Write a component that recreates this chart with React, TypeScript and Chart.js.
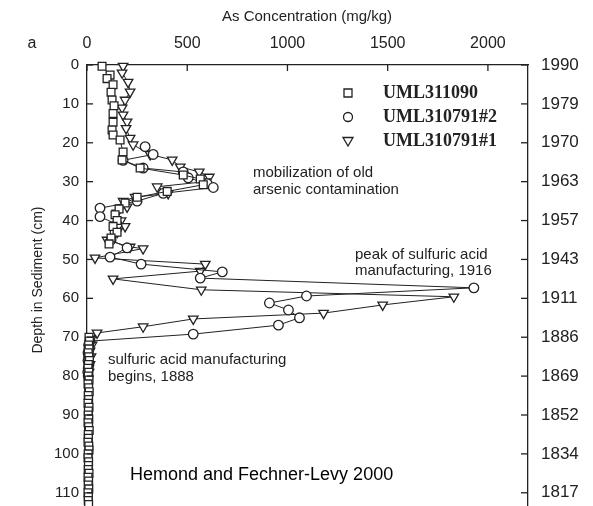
import React, { useEffect, useRef } from "react";
import { Chart, registerables } from "chart.js";

Chart.register(...registerables);

const SANS = "'Liberation Sans', Arial, Helvetica, sans-serif";
const SERIF = "'Liberation Serif', 'Times New Roman', serif";

const xTitle = "As Concentration (mg/kg)";
const yTitle = "Depth in Sediment (cm)";
const concTicks = [0, 500, 1000, 1500, 2000];
const depthTicks = [0, 10, 20, 30, 40, 50, 60, 70, 80, 90, 100, 110];
const yearLabels = ["1990", "1979", "1970", "1963", "1957", "1943", "1911", "1886", "1869", "1852", "1834", "1817"];
const seriesNames = ["UML311090", "UML310791#2", "UML310791#1"];

// UML311090 (squares): depth (cm) and As concentration (mg/kg)
const sqDepth = [0.3, 2.6, 3.5, 5.1, 7, 9, 10.5, 12.5, 14.7, 16.7, 18, 19.3, 22.4, 24.4, 26.5, 28.3, 29.3, 30.8, 32.5, 34, 35.5, 37, 38.5, 40, 41.5, 43, 44.5, 46, null,
  70, 71, 72, 73, 74, 75, 76, 77, 78, 79, 80, 81, 82, 83, 84, 85, 86, 87, 88, 89, 90, 91, 92, 93, 94, 95, 96, 97, 98, 99, 100, 101, 102, 103, 104, 105, 106, 107, 108, 109, 110, 111, 112, 113];
const sqConc = [75, 115, 100, 130, 120, 125, 135, 130, 130, 125, 130, 165, 180, 175, 265, 480, 565, 580, 400, 250, 190, 160, 140, 150, 130, 150, 120, 110, null,
  10, 12, 8, 10, 6, 9, 12, 7, 5, 9, 6, 10, 5, 8, 11, 6, 8, 5, 10, 7, 6, 9, 5, 8, 11, 6, 7, 5, 9, 10, 6, 5, 8, 7, 6, 10, 5, 8, 6, 9, 5, 7, 6, 8];

// UML310791#2 (circles)
const ciDepth = [21, 23, 24.5, 26.5, 27.5, 29, 30.5, 31.5, 33, 35, 36.8, 39, 41, 43, 45, 47, 49.4, 51.2, 53.2, 54.8, 57.3, 59.4, 61.2, 63, 65, 66.9, 69.2, 71, 72, 73, 74, 75, 76, 77, 78, 79, 80];
const ciConc = [290, 330, 180, 280, 480, 505, 600, 630, 380, 250, 65, 65, 150, 140, 120, 200, 115, 270, 675, 565, 1930, 1095, 910, 1005, 1060, 955, 530, 15, 8, 10, 5, 8, 5, 10, 6, 4, 6];

// UML310791#1 (triangles)
const trDepth = [0.3, 2, 4.4, 6.9, 9, 11, 12.8, 14.6, 16.3, 18.8, 20.5, 23, 24.4, 26.2, 27.5, 28.8, 30, 31.3, 33, 34, 35, 36.5, 38, 40, 41.5, 43, 45, 46.8, 47.2, 49.6, 51.2, 53, 55, 57.8, 59.6, 61.7, 63.8, 65.3, 67.3, 68.9, 70.5, 72, 73.5, 75, 77, 79];
const trConc = [180, 175, 205, 215, 190, 175, 180, 200, 195, 215, 230, 315, 425, 465, 560, 610, 590, 350, 405, 240, 180, 200, 150, 170, 190, 150, 100, 215, 280, 40, 590, 565, 130, 570, 1830, 1475, 1180, 530, 280, 50, 20, 25, 15, 20, 15, 10];

const toPoints = (d: (number | null)[], c: (number | null)[]) =>
  d.map((y, i) => ({ x: c[i] as any, y: y as any }));

const INK = "#222";

const decor = {
  id: "decor",
  afterDraw(chart: any) {
    const ctx = chart.ctx as CanvasRenderingContext2D;
    const { left, right, top } = chart.chartArea;
    ctx.save();
    ctx.strokeStyle = INK;
    ctx.lineWidth = 1.3;
    const line = (x1: number, y1: number, x2: number, y2: number) => {
      ctx.beginPath();
      ctx.moveTo(x1, y1);
      ctx.lineTo(x2, y2);
      ctx.stroke();
    };
    const xs = chart.scales.x;
    xs.ticks.forEach((t: any) => {
      const p = xs.getPixelForValue(t.value);
      line(p, top, p, top + 6);
    });
    const ys = chart.scales.y;
    ys.ticks.forEach((t: any) => {
      const p = ys.getPixelForValue(t.value);
      line(left, p, left + 6, p);
    });
    const ys2 = chart.scales.y2;
    ys2.ticks.forEach((t: any) => {
      const p = ys2.getPixelForValue(t.value);
      line(right - 7, p, right, p);
    });

    // legend
    const lx = 348;
    const rows = [93, 117, 141];
    ctx.lineWidth = 1.3;
    ctx.fillStyle = "#fff";
    ctx.beginPath();
    ctx.rect(lx - 4, rows[0] - 4, 8, 8);
    ctx.fill();
    ctx.stroke();
    ctx.beginPath();
    ctx.arc(lx, rows[1], 4.5, 0, Math.PI * 2);
    ctx.fill();
    ctx.stroke();
    ctx.beginPath();
    ctx.moveTo(lx - 5, rows[2] - 3.5);
    ctx.lineTo(lx + 5, rows[2] - 3.5);
    ctx.lineTo(lx, rows[2] + 5);
    ctx.closePath();
    ctx.fill();
    ctx.stroke();

    ctx.fillStyle = INK;
    ctx.textBaseline = "middle";
    ctx.textAlign = "left";
    ctx.font = `bold 18px ${SERIF}`;
    seriesNames.forEach((n, i) => ctx.fillText(n, 383, rows[i]));

    // annotations
    ctx.font = `15px ${SANS}`;
    ctx.fillText("mobilization of old", 253, 173);
    ctx.fillText("arsenic contamination", 253, 190);
    ctx.fillText("peak of sulfuric acid", 355, 255);
    ctx.fillText("manufacturing, 1916", 355, 271);
    ctx.fillText("sulfuric acid manufacturing", 108, 360);
    ctx.fillText("begins, 1888", 108, 377);

    ctx.fillStyle = "#000";
    ctx.font = `18px ${SANS}`;
    ctx.fillText("Hemond and Fechner-Levy 2000", 130, 475);

    // titles
    ctx.fillStyle = INK;
    ctx.font = `15px ${SANS}`;
    ctx.textAlign = "center";
    ctx.fillText(xTitle, 307, 17);
    ctx.font = `16px ${SANS}`;
    ctx.fillText("a", 32, 44);

    ctx.save();
    ctx.translate(38, 280);
    ctx.rotate(-Math.PI / 2);
    ctx.font = `14px ${SANS}`;
    ctx.fillText(yTitle, 0, 0);
    ctx.restore();

    ctx.restore();
  },
};

const baseDs = {
  showLine: true,
  borderColor: INK,
  borderWidth: 1,
  pointBorderColor: INK,
  pointBackgroundColor: "#fff",
  pointBorderWidth: 1.3,
  spanGaps: false,
  clip: false as any,
};

const zeroPad = (s: any) => {
  s.paddingTop = 0;
  s.paddingBottom = 0;
  s.paddingLeft = 0;
  s.paddingRight = 0;
};

export default function App() {
  const ref = useRef<HTMLCanvasElement | null>(null);
  useEffect(() => {
    if (!ref.current) return;
    const chart = new Chart(ref.current, {
      type: "scatter",
      data: {
        datasets: [
          { ...baseDs, label: seriesNames[0], data: toPoints(sqDepth, sqConc), pointStyle: "rect", pointRadius: 5.5 },
          { ...baseDs, label: seriesNames[1], data: toPoints(ciDepth, ciConc), pointStyle: "circle", pointRadius: 4.8 },
          { ...baseDs, label: seriesNames[2], data: toPoints(trDepth, trConc), pointStyle: "triangle", pointRotation: 180, pointRadius: 5.5 },
        ] as any,
      },
      options: {
        animation: false,
        responsive: false,
        events: [],
        layout: { padding: 0, autoPadding: false },
        plugins: { legend: { display: false }, tooltip: { enabled: false } },
        scales: {
          x: {
            type: "linear",
            position: "top",
            min: 0,
            max: 2200,
            grid: { display: false, drawTicks: false },
            border: { display: true, color: INK, width: 1.3 },
            ticks: { padding: 12, color: INK, font: { family: SANS, size: 16 }, maxRotation: 0, autoSkip: false, callback: (v: any) => String(v) },
            afterBuildTicks: (s: any) => { s.ticks = concTicks.map((v) => ({ value: v })); },
            afterFit: (s: any) => { s.height = 65; zeroPad(s); },
          },
          y: {
            type: "linear",
            position: "left",
            reverse: true,
            min: 0,
            max: 113.4,
            grid: { display: false, drawTicks: false },
            border: { display: true, color: INK, width: 1.3 },
            ticks: { padding: 8, color: INK, font: { family: SANS, size: 15 }, autoSkip: false, callback: (v: any) => String(v) },
            afterBuildTicks: (s: any) => { s.ticks = depthTicks.map((v) => ({ value: v })); },
            afterFit: (s: any) => { s.width = 87; zeroPad(s); },
          },
          y2: {
            type: "linear",
            position: "right",
            reverse: true,
            min: 0,
            max: 113.4,
            grid: { display: false, drawTicks: false },
            border: { display: true, color: INK, width: 1.3 },
            ticks: { padding: 13, color: INK, font: { family: SANS, size: 17 }, autoSkip: false, callback: (v: any) => yearLabels[depthTicks.indexOf(v)] ?? "" },
            afterBuildTicks: (s: any) => { s.ticks = depthTicks.map((v) => ({ value: v })); },
            afterFit: (s: any) => { s.width = 65; zeroPad(s); },
          },
        },
      } as any,
      plugins: [decor],
    });
    return () => chart.destroy();
  }, []);
  return (
    <div style={{ position: "fixed", left: 0, top: 0, width: 593, height: 506, background: "#fff" }}>
      <canvas ref={ref} width={593} height={506} style={{ width: 593, height: 506, display: "block" }} />
    </div>
  );
}
